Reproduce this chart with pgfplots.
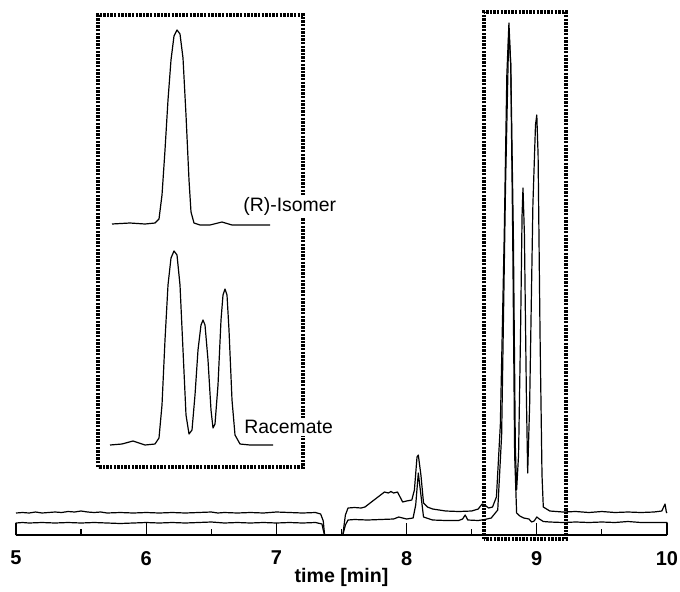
\documentclass[border=0pt]{standalone}
\usepackage{fontspec}
\setmainfont{Liberation Sans}
\usepackage{pgfplots}
\pgfplotsset{compat=1.18}

\tikzset{
  trace/.style={black, line width=0.6pt, line join=round},
  dotbox/.style={black, line width=1.7pt, dash pattern=on 1.2pt off 0.6pt},
}

\begin{document}
\begin{tikzpicture}
% main chromatogram, y in arbitrary detector units
\begin{axis}[
    name=main,
    at={(0,0)}, anchor=south west,
    scale only axis,
    width=325.5pt, height=261.5pt,
    xmin=5, xmax=10, ymin=0, ymax=523,
    enlargelimits=false,
    clip=false,
    axis x line=bottom,
    x axis line style={-, line width=0.7pt},
    hide y axis,
    xtick={5,6,7,8,9,10},
    minor xtick={5.5,6.5,7.5,8.5,9.5},
    tick align=inside,
    major tick length=6pt,
    minor tick length=3pt,
    tick style={black, line width=0.6pt},
    /pgf/number format/assume math mode=true,
    tick label style={font=\bfseries\fontsize{10}{11}\selectfont, yshift=-4.5pt},
    xlabel={time [min]},
    xlabel style={font=\bfseries\fontsize{9.8}{11}\selectfont, yshift=5.5pt},
]
% racemate (upper trace)
\addplot[trace] coordinates {
  (5.00,22) (5.05,22.5) (5.10,22) (5.15,23) (5.20,22) (5.25,22.5) (5.30,23) (5.35,22.5)
  (5.40,23.5) (5.45,23) (5.50,24) (5.55,23) (5.60,22.5) (5.65,23) (5.70,22) (5.80,22.5)
  (5.90,22) (6.00,22.5) (6.10,22) (6.20,22.5) (6.30,22) (6.40,22.5) (6.50,23) (6.55,22)
  (6.60,22.5) (6.70,22) (6.80,22.5) (6.90,22) (7.00,23) (7.10,22.5) (7.20,22) (7.30,22.5)
  (7.34,21) (7.36,14) (7.37,0) (7.51,0) (7.53,20) (7.55,27) (7.60,27.5) (7.65,27)
  (7.68,28) (7.72,32) (7.76,36) (7.80,40) (7.83,43) (7.86,42) (7.88,43.5) (7.90,42)
  (7.93,43) (7.95,38) (7.97,33) (8.00,34) (8.04,35) (8.06,45) (8.08,78) (8.09,80)
  (8.11,60) (8.13,32) (8.16,28) (8.20,26) (8.25,25) (8.30,24) (8.40,23.5) (8.50,24)
  (8.55,26) (8.58,31) (8.60,30) (8.63,27) (8.66,28) (8.69,38) (8.72,110) (8.75,300)
  (8.77,460) (8.786,512) (8.80,470) (8.82,300) (8.835,90) (8.845,45) (8.86,80)
  (8.875,200) (8.887,320) (8.894,347) (8.905,300) (8.92,140) (8.93,62) (8.945,130)
  (8.97,330) (8.99,410) (9.00,420) (9.01,380) (9.025,200) (9.04,60) (9.05,28)
  (9.10,24) (9.20,23) (9.30,23.5) (9.40,22.5) (9.50,23.5) (9.60,22.5) (9.70,23)
  (9.80,22.5) (9.90,23) (9.96,24) (9.985,31) (9.995,23) (10.00,22)
};
% (R)-isomer (lower trace)
\addplot[trace] coordinates {
  (5.00,0) (5.00,12) (5.05,12.5) (5.10,12) (5.20,12.5) (5.30,12) (5.40,12.5) (5.50,12)
  (5.60,12.5) (5.70,12) (5.80,11.5) (5.90,12) (6.00,12.5) (6.10,12) (6.20,12.5) (6.30,12)
  (6.40,12.5) (6.50,13) (6.60,12) (6.70,12.5) (6.80,12) (6.90,12.5) (7.00,12) (7.10,12.5)
  (7.20,12) (7.30,12.5) (7.35,11) (7.36,5) (7.37,0) (7.51,0) (7.53,10) (7.55,15)
  (7.60,15.5) (7.70,15) (7.80,15.5) (7.90,16) (7.94,18) (7.97,17) (8.00,16) (8.05,17)
  (8.07,30) (8.09,62) (8.11,40) (8.13,18) (8.20,15) (8.30,14.5) (8.40,14.5) (8.43,16)
  (8.45,20) (8.47,15) (8.55,14.5) (8.60,15.5) (8.65,17) (8.70,25) (8.73,100) (8.76,350)
  (8.785,505) (8.80,470) (8.815,300) (8.83,80) (8.845,22) (8.87,19) (8.90,17) (8.94,16)
  (8.96,13) (8.98,14) (9.00,18) (9.02,16) (9.05,13.5) (9.10,13) (9.20,12.5) (9.30,13)
  (9.40,12.5) (9.50,13) (9.60,12.5) (9.70,13.5) (9.80,12.5) (9.90,12.5) (10.00,12.5)
  (10.00,0)
};
\draw[dotbox] (axis cs:8.594,-4) rectangle (axis cs:9.224,523);
\end{axis}

% enlarged inset of the peak region
\begin{axis}[
    at={(41pt,34pt)}, anchor=south west,
    scale only axis,
    width=102.5pt, height=226pt,
    xmin=0, xmax=205, ymin=0, ymax=452,
    enlargelimits=false,
    clip=false,
    ticks=none,
    axis line style={dotbox},
]
\addplot[trace] coordinates {
  (14,243) (32,244) (47,243) (57,244) (61,248) (64,272) (67,317) (70,367) (73,407)
  (76,431) (79,437) (82,433) (85,409) (88,352) (91,287) (93,255) (96,244) (102,242)
  (112,242) (124,245) (134,242) (152,242) (172,242)
};
\addplot[trace] coordinates {
  (12,22) (24,23) (35,26) (47,22) (57,23) (61,29) (64,62) (67,127) (70,182) (73,209)
  (76,216) (79,212) (82,182) (85,117) (88,52) (91,33) (94,37) (97,72) (100,117)
  (103,142) (105,147) (107,142) (110,107) (113,57) (115,39) (117,43) (120,82)
  (123,147) (125,172) (127,178) (129,172) (131,137) (134,67) (137,32) (142,23)
  (152,22) (175,22)
};
\node[anchor=west, fill=white, inner sep=1pt, font=\fontsize{9.7}{11}\selectfont]
  at (axis cs:143,261) {(R)-Isomer};
\node[anchor=west, fill=white, inner sep=1pt, font=\fontsize{9.7}{11}\selectfont]
  at (axis cs:144,40) {Racemate};
\end{axis}

\pgfresetboundingbox
\path (-8pt,-28pt) rectangle (332pt,267.5pt);
\end{tikzpicture}
\end{document}
